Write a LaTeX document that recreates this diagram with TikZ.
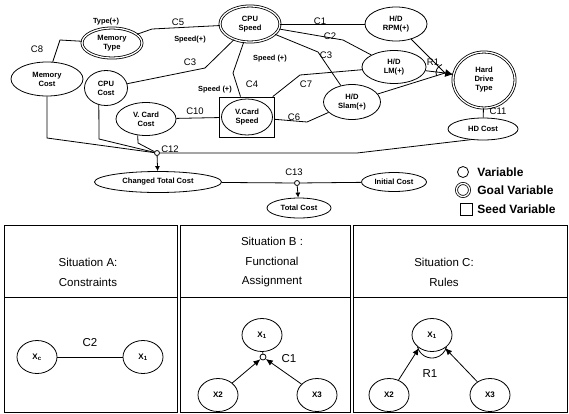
\documentclass[tikz,border=0pt]{standalone}
\usepackage{fontspec}
\setmainfont{Liberation Sans}
\usetikzlibrary{shapes.geometric,arrows.meta}
\begin{document}
\begin{tikzpicture}[x=1pt,y=-1pt,line width=0.8pt,
  var/.style={ellipse,draw,inner sep=0pt,align=center,font=\bfseries\fontsize{7.6}{9}\selectfont},
  goal/.style={var,double,double distance=1.3pt},
  lab/.style={font=\fontsize{9.5}{10}\selectfont,inner sep=0pt},
  slab/.style={font=\bfseries\fontsize{7.4}{8}\selectfont,inner sep=0pt},
  junc/.style={circle,draw,fill=white,inner sep=0pt,minimum size=5pt},
  arr/.style={-{Latex[length=5pt,width=5pt]}},
  parr/.style={-{Latex[length=7pt,width=6pt]}},
  ttl/.style={align=center,inner sep=0pt,font=\fontsize{11.5}{19.5}\selectfont},
  pvar/.style={ellipse,draw,inner sep=0pt,minimum width=40,minimum height=33,font=\bfseries\fontsize{8}{9}\selectfont},
  plab/.style={inner sep=0pt,font=\fontsize{11.5}{12}\selectfont},
  leg/.style={anchor=west,inner sep=0pt,font=\bfseries\fontsize{12}{13}\selectfont}]
\useasboundingbox (0,0) rectangle (569,413);

% ---- top network nodes
\node[goal,minimum width=60,minimum height=30] (memtype) at (112,43) {Memory\\Type};
\node[var,minimum width=72,minimum height=34] (memcost) at (47,79) {Memory\\Cost};
\node[var,minimum width=43,minimum height=35] (cpucost) at (106,88) {CPU\\Cost};
\node[var,minimum width=60,minimum height=33] (vcardcost) at (146,119) {V. Card\\Cost};
\node[goal,minimum width=60,minimum height=36] (cpuspeed) at (250,24) {CPU\\Speed};
\node[var,minimum width=62,minimum height=34] (hdrpm) at (396,24) {H/D\\RPM(+)};
\node[var,minimum width=64,minimum height=33] (hdlm) at (394,67) {H/D\\LM(+)};
\node[var,minimum width=57,minimum height=35] (hdslam) at (352,102) {H/D\\Slam(+)};
\node[goal,minimum width=62,minimum height=56] (hdtype) at (484,80) {Hard\\Drive\\Type};
\node[var,minimum width=70,minimum height=22] (hdcost) at (483,129) {HD Cost};
\node[draw,minimum width=55,minimum height=40,inner sep=0pt] (vcs) at (247,117) {};
\node[var,minimum width=51,minimum height=36] (vcse) at (247,117) {V.Card\\Speed};
\node[var,minimum width=127,minimum height=21] (changed) at (158,182) {Changed Total Cost};
\node[var,minimum width=65,minimum height=19] (initcost) at (394,182) {Initial Cost};
\node[var,minimum width=64,minimum height=20] (totalcost) at (299,208) {Total Cost};
\node[junc] (c12) at (157,153) {};
\node[junc] (c13) at (297,183) {};

% ---- bend points
\coordinate (b5) at (152,29);
\coordinate (b8) at (60,40);
\coordinate (b3a) at (205,68);
\coordinate (b4) at (233,73);
\coordinate (b2) at (343,40);
\coordinate (b3b) at (318,52);
\coordinate (b7) at (300,75);
\coordinate (b6) at (307,122);
\coordinate (r1) at (445,73);
\coordinate (m1) at (47,138);
\coordinate (p1) at (99,139);
\coordinate (v1) at (138,143);
\coordinate (h1) at (357,153);

% ---- connectors
\draw (memtype) -- (b5) -- (cpuspeed);
\draw (memtype) -- (b8) -- (memcost);
\draw (cpucost) -- (b3a) -- (cpuspeed);
\draw (cpuspeed) -- (b4) -- (vcs);
\draw (vcardcost) -- (vcs);
\draw (cpuspeed) -- (hdrpm);
\draw (cpuspeed) -- (b2) -- (hdlm);
\draw (cpuspeed) -- (b3b) -- (hdslam);
\draw (vcs) -- (b7) -- (hdlm);
\draw (vcs) -- (b6) -- (hdslam);
\draw (hdrpm) -- (r1);
\draw (hdlm) -- (r1);
\draw (hdslam) -- (r1);
\draw[-{Latex[length=8pt,width=8pt]}] (r1) -- (hdtype);
\draw (r1) ++(250:9) arc[start angle=250,end angle=160,radius=9];
\draw (hdtype) -- (hdcost);
\draw (memcost) -- (m1) -- (c12);
\draw (cpucost.247) -- (p1) -- (c12);
\draw (vcardcost.243) -- (v1) -- (c12);
\draw (c12) -- (h1) -- (hdcost.221);
\draw[arr] (c12) -- (changed);
\draw (changed) -- (c13) -- (initcost);
\draw[arr] (c13) -- (totalcost);

% ---- labels
\node[slab] (lt) at (106,22) {Type(+)};
\node[slab] (ls1) at (190,40) {Speed(+)};
\node[slab] (ls2) at (270,59) {Speed (+)};
\node[slab] (ls3) at (215,90) {Speed (+)};
\node[lab] (l5) at (178,22) {C5};
\node[lab] (l8) at (37,49) {C8};
\node[lab] (l3a) at (190,62) {C3};
\node[lab] (l10) at (195,111) {C10};
\node[lab] (l1) at (320,21) {C1};
\node[lab] (l2) at (330,36) {C2};
\node[lab] (l3b) at (326,55) {C3};
\node[lab] (l4) at (252,84) {C4};
\node[lab] (l7) at (306,84) {C7};
\node[lab] (l6) at (294,117) {C6};
\node[lab] (lr1) at (433,62) {R1};
\node[lab] (l11) at (498,111) {C11};
\node[lab] (l12) at (170,149) {C12};
\node[lab] (l13) at (294,172) {C13};

% ---- legend
\node[circle,draw,minimum size=11,inner sep=0pt] (lv) at (463,172) {};
\node[circle,draw,double,double distance=1.3pt,minimum size=13,inner sep=0pt] (lg) at (463,190) {};
\node[draw,minimum size=12,inner sep=0pt] (lsd) at (466,209) {};
\node[leg] (tv) at (477,172) {Variable};
\node[leg] (tg) at (477,190) {Goal Variable};
\node[leg] (ts) at (477,209) {Seed Variable};

% ---- panels
\draw (4,225) rectangle (177,412);
\draw (4,297) -- (177,297);
\draw (180,225) rectangle (350,412);
\draw (180,297) -- (350,297);
\draw (353,225) rectangle (567,412);
\draw (353,297) -- (567,297);
\node[ttl] (ta) at (88,272.5) {Situation A:\\Constraints};
\node[ttl] (tb) at (272,262.5) {Situation B :\\Functional\\Assignment};
\node[ttl] (tc) at (444,272.5) {Situation C:\\Rules};

% panel A
\node[pvar] (axc) at (37,357) {X\textsubscript{c}};
\node[pvar] (ax1) at (143,357) {X\textsubscript{1}};
\draw (axc) -- (ax1);
\node[plab] (lc2) at (90,343) {C2};

% panel B
\node[pvar] (bx1) at (262,335) {X\textsubscript{1}};
\node[pvar] (bx2) at (218,395) {X2};
\node[pvar] (bx3) at (317,395) {X3};
\node[junc,minimum size=6pt] (bj) at (263,357) {};
\draw (bx1) -- (bj);
\draw[parr] (bx2) -- (bj);
\draw[parr] (bx3) -- (bj);
\node[plab] (lc1) at (289,359) {C1};

% panel C
\node[pvar] (cx1) at (432,335) {X\textsubscript{1}};
\node[pvar] (cx2) at (389,395) {X2};
\node[pvar] (cx3) at (490,395) {X3};
\draw[parr] (cx2) -- (cx1.225);
\draw[parr] (cx3) -- (cx1.315);
\draw (432,343) ++(165:15) arc[start angle=165,end angle=15,radius=15];
\node[plab] (lr1c) at (430,374) {R1};
\end{tikzpicture}
\end{document}
